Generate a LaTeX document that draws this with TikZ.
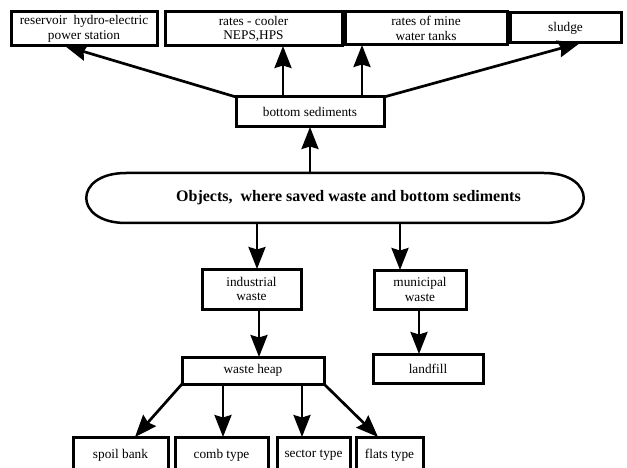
\documentclass[tikz,border=0pt]{standalone}
\usepackage{fontspec}
\setmainfont{Liberation Serif}
\usetikzlibrary{arrows.meta}
\begin{document}
\begin{tikzpicture}[x=1pt,y=-1pt,
  box/.style={draw, line width=3pt, rectangle, inner sep=0pt, outer sep=0pt, align=center,
    font=\fontsize{13.3}{14.5}\selectfont},
  arr/.style={line width=2.7pt, -{Stealth[length=22pt,width=17pt,inset=2.5pt]}},
  stad/.style={draw=none, inner sep=0pt, outer sep=0pt, font=\bfseries\fontsize{16}{18}\selectfont}]
\clip (0,0) rectangle (627,468);
\fill[white] (0,0) rectangle (627,468);
% top row
\node[box, minimum width=146pt, minimum height=34pt] (res) at (84,29) {reservoir\ \ hydro-electric\\power station};
\node[box, minimum width=177pt, minimum height=34pt] (cool) at (253.5,29) {rates - cooler\\NEPS,HPS};
\node[box, minimum width=162pt, minimum height=33pt] (mine) at (426,28.5) {rates of mine\\water tanks};
\node[box, minimum width=111pt, minimum height=30pt] (sludge) at (565.5,28) {sludge};
% bottom sediments
\node[box, minimum width=148pt, minimum height=30pt] (bs) at (310,112) {bottom sediments};
% stadium
\node[stad, minimum width=498pt, minimum height=50pt] (obj) at (335,198) {\hspace{27pt}Objects,\ \ where saved waste and bottom sediments};
\draw[line width=2.5pt] (126,173) -- (544,173) .. controls +(53,0) and +(53,0) .. (544,223) -- (126,223) .. controls +(-53,0) and +(-53,0) .. cycle;
% waste
\node[box, minimum width=99pt, minimum height=40pt] (ind) at (251.5,289) {industrial\\waste};
\node[box, minimum width=92pt, minimum height=39pt] (mun) at (420,289.5) {municipal\\waste};
\node[box, minimum width=142pt, minimum height=27pt] (heap) at (253,370.5) {waste heap};
\node[box, minimum width=110pt, minimum height=29pt] (land) at (428,368.5) {landfill};
% bottom row
\node[box, minimum width=95pt, minimum height=36pt] (spoil) at (120.5,455) {spoil bank};
\node[box, minimum width=93pt, minimum height=36pt] (comb) at (221.5,455) {comb type};
\node[box, minimum width=73pt, minimum height=36pt] (sector) at (313.5,455) {sector type};
\node[box, minimum width=67pt, minimum height=36pt] (flats) at (389.5,455) {flats type};
% connector end coordinates
\coordinate (resT) at ([xshift=-19pt]res.south);
\coordinate (coolT) at ([xshift=29.5pt]cool.south);
\coordinate (mineT) at ([xshift=-64pt]mine.south);
\coordinate (sludgeT) at ([xshift=14.5pt]sludge.south);
\coordinate (spoilT) at ([xshift=14.5pt]spoil.north);
\coordinate (flatsT) at ([xshift=-11.5pt]flats.north);
% arrows from bottom sediments
\draw[arr] (bs.north west) -- (resT);
\draw[arr] (bs.north -| coolT) -- (coolT);
\draw[arr] (bs.north -| mineT) -- (mineT);
\draw[arr] (bs.north east) -- (sludgeT);
% stadium arrows
\draw[arr] (obj.north -| bs.south) -- (bs.south);
\draw[arr] (obj.south -| 257,0) -- (ind.north -| 257,0);
\draw[arr] (obj.south -| 400,0) -- (mun.north -| 400,0);
% waste arrows
\draw[arr] (ind.south -| 259,0) -- (heap.north -| 259,0);
\draw[arr] (mun.south -| 419,0) -- (land.north -| 419,0);
% waste heap arrows
\draw[arr] (heap.south west) -- (spoilT);
\draw[arr] (heap.south -| 223,0) -- (comb.north -| 223,0);
\draw[arr] (heap.south -| 302,0) -- (sector.north -| 302,0);
\draw[arr] (heap.south east) -- (flatsT);
\end{tikzpicture}
\end{document}
